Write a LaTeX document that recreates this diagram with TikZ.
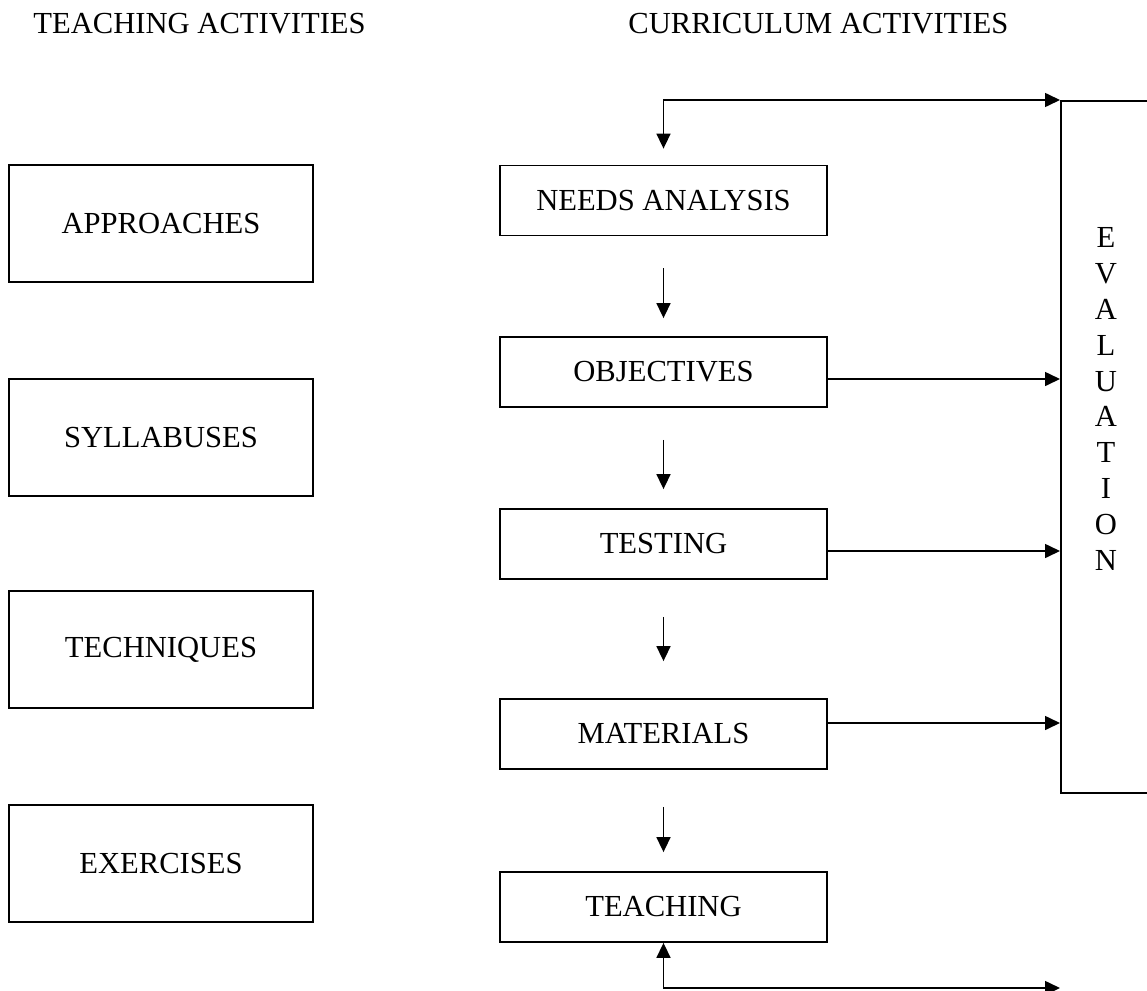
\documentclass[tikz,border=0pt]{standalone}
\usepackage{fontspec}
\setmainfont{Liberation Serif}
\usetikzlibrary{arrows.meta}

\tikzset{
  >={Triangle[length=7.5pt,width=7pt]},
  box/.style={draw, line width=0.9pt, minimum width=152pt, minimum height=58.5pt, inner sep=0pt},
  stage/.style={draw, line width=0.9pt, minimum width=163.5pt, minimum height=35pt, inner sep=0pt},
  flow/.style={line width=0.8pt, ->},
  twoway/.style={line width=0.8pt, <->},
  heading/.style={anchor=base west, inner sep=0pt},
}

\begin{document}
\begin{tikzpicture}[x=0.5pt, y=-0.5pt, font=\fontsize{15.3}{17.9}\selectfont]
\useasboundingbox (0,0) rectangle (1147,991);
\clip (0,0) rectangle (1147,991);
\node[heading] (teachhead) at (33,33) {TEACHING ACTIVITIES};
\node[heading] (currhead) at (628,33) {CURRICULUM ACTIVITIES};
% teaching side
\node[box] (appr) at (161,223.5) {APPROACHES};
\node[box] (syll) at (161,437.5) {SYLLABUSES};
\node[box] (tech) at (161,649.5) {TECHNIQUES};
\node[box] (exer) at (161,863.5) {EXERCISES};
% curriculum side
\node[stage] (needs) at (663.5,200.5) {NEEDS ANALYSIS};
\node[stage] (obj) at (663.5,372) {OBJECTIVES};
\node[stage] (test) at (663.5,544) {TESTING};
\node[stage] (mat) at (663.5,734) {MATERIALS};
\node[stage] (teach) at (663.5,907) {TEACHING};
\node[draw, line width=0.9pt, anchor=north west, minimum width=120pt, minimum height=346pt] (eval) at (1060,100) {};
\node[align=center, inner sep=0pt] (evallbl) at (1106,399) {E\\V\\A\\L\\U\\A\\T\\I\\O\\N};
% down the chain
\draw[flow, shorten <=16pt, shorten >=9pt] (needs) -- (obj);
\draw[flow, shorten <=16pt, shorten >=9.5pt] (obj) -- (test);
\draw[flow, shorten <=18.5pt, shorten >=18.5pt] (test) -- (mat);
\draw[flow, shorten <=18.5pt, shorten >=9.5pt] (mat) -- (teach);
% into evaluation
\coordinate (objout) at ([yshift=-3.5pt]obj.east);
\coordinate (testout) at ([yshift=-3.5pt]test.east);
\coordinate (matout) at ([yshift=5.5pt]mat.east);
\draw[flow] (objout) -- (objout -| eval.west);
\draw[flow] (testout) -- (testout -| eval.west);
\draw[flow] (matout) -- (matout -| eval.west);
% loops
\draw[twoway, shorten <=8pt] (needs.north) |- (eval.north west);
\coordinate (loopend) at (1060,988);
\draw[twoway] (teach.south) |- (loopend);
\end{tikzpicture}
\end{document}
